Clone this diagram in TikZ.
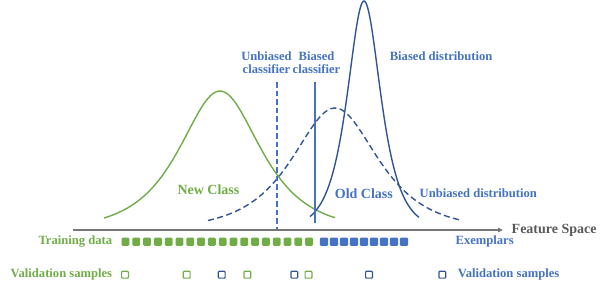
\documentclass[tikz,border=0pt]{standalone}
\usepackage{fontspec}
\setmainfont{Liberation Serif}
\usepackage{xcolor}
\usepackage{tikz}
\usetikzlibrary{positioning, arrows.meta}
\definecolor{newgreen} {RGB}{112, 173,  71}
\definecolor{oldblue}  {RGB}{ 68, 114, 196}
\definecolor{darkblue} {RGB}{ 47,  85, 151}
\definecolor{axisgray} {RGB}{118, 118, 118}
\definecolor{labelgray}{RGB}{ 89,  89,  89}
\tikzset{
  lbl/.style={font=\fontsize{12.6}{13.5}\selectfont\bfseries, inner sep=0pt},
  biglbl/.style={font=\fontsize{14}{15}\selectfont\bfseries, inner sep=0pt},
  trainsq/.style={fill=newgreen, rounded corners=1.2pt, minimum width=7.8pt,
                  minimum height=8.2pt, inner sep=0pt},
  exsq/.style={trainsq, fill=oldblue, minimum width=8.4pt},
  valsq/.style={draw=#1, line width=1.2pt, rounded corners=0.8pt,
                minimum size=6.8pt, inner sep=0pt},
  curve/.style={line width=1.4pt, smooth},
  clfline/.style={oldblue, line width=2pt},
  dashy/.style={dash pattern=on 5.5pt off 3pt}
}

\begin{document}
\begin{tikzpicture}[x=1pt, y=-1pt]
  \useasboundingbox (0,0) rectangle (607,289);
  \coordinate (axisL) at (73,230);
  \coordinate (axisR) at (503,230);
  \draw[axisgray, line width=1.7pt, -{Triangle[length=5pt, width=4.5pt]}]
       (axisL) -- (axisR);
  \node[biglbl, labelgray, right=8.5pt of axisR] (feat) {Feature Space};

  \draw[newgreen, curve] plot[domain=104:335, samples=90]
       (\x, {229 - 276/(exp((\x-220)/36) + exp(-(\x-220)/36))});
  \draw[darkblue, curve, dash pattern=on 6pt off 3.5pt] plot[domain=208:462, samples=90]
       (\x, {229 - 242/(exp((\x-335)/38) + exp(-(\x-335)/38))});
  \draw[darkblue, curve] plot[domain=310:419, samples=120]
       (\x, {229 - 456/(exp((\x-364)/15) + exp(-(\x-364)/15))});

  \coordinate (ubtop) at (277,82);
  \coordinate (ubbot) at (277,229);
  \coordinate (btop)  at (315,82);
  \coordinate (bbot)  at (315,223);
  \draw[clfline, dashy] (ubtop) -- (ubbot);
  \draw[clfline] (btop) -- (bbot);
  \node[lbl, oldblue, align=center] (unbclf) at (266.5,62.5)
       {Unbiased\\classifier};
  \node[lbl, oldblue, align=center] (biaclf) at (316.5,62.5)
       {Biased\\classifier};

  \node[lbl, oldblue, anchor=west] (biasdist) at (389.6,56)
       {Biased distribution};
  \node[lbl, oldblue, anchor=west] (unbdist) at (419.5,193)
       {Unbiased distribution};
  \node[biglbl, oldblue, anchor=west] (oldcls) at (334.7,193.6) {Old Class};
  \node[biglbl, newgreen, anchor=west] (newcls) at (177.3,190) {New Class};

  \foreach \i in {0,...,17}
    \node[trainsq] (tr\i) at ({125.45+10.8*\i}, 241.7) {};
  \foreach \i in {0,...,8}
    \node[exsq] (ex\i) at ({324+10*\i}, 241.7) {};
  \node[lbl, newgreen, left=9pt of tr0] (traindata) {Training data};
  \node[lbl, oldblue, right=47pt of ex8] (exemplars) {Exemplars};

  \foreach \x/\c [count=\i] in {125/newgreen, 186.7/newgreen, 221.7/darkblue,
      247.3/newgreen, 294.3/darkblue, 308.5/newgreen, 369/darkblue, 442.3/darkblue}
    \node[valsq=\c] (val\i) at (\x, 274.7) {};
  \node[lbl, newgreen, left=8.7pt of val1] (valnew) {Validation samples};
  \node[lbl, oldblue, right=11.4pt of val8] (valold) {Validation samples};
\end{tikzpicture}
\end{document}
